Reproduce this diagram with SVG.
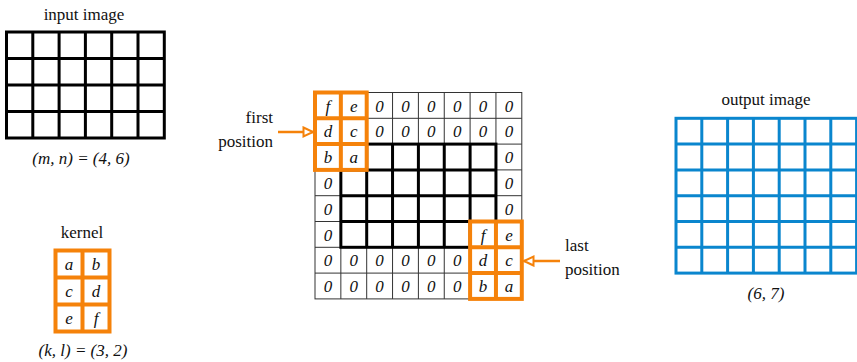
<svg xmlns="http://www.w3.org/2000/svg" width="857" height="362" viewBox="0 0 857 362">
<style>
text{font-family:"Liberation Serif",Tinos,"Times New Roman",Times,serif;font-size:17px;fill:#111}
.it{font-style:italic}
.c{text-anchor:middle}
.thin{stroke:#333;stroke-width:1;fill:none}
.thick{stroke:#000;stroke-width:3;fill:none}
.org{stroke:#F5820A;stroke-width:4;fill:#fff}
.orgl{stroke:#F5820A;stroke-width:4;fill:none}
.blue{stroke:#0A86CE;stroke-width:3;fill:none}
.arr{stroke:#F5820A;stroke-width:2.5;fill:none}
</style>
<defs>
<marker id="ah" markerUnits="userSpaceOnUse" markerWidth="14" markerHeight="14" refX="11" refY="6" orient="auto">
<path d="M1.5,1.5 L11,6 L1.5,10.5 Z" fill="#fff" stroke="#F5820A" stroke-width="2"/>
</marker>
</defs>
<rect width="857" height="362" fill="#fff"/>

<g id="input-image">
<text class="c" x="84" y="20">input image</text>
<rect class="thick" x="6.5" y="32" width="157.8" height="106"/>
<path class="thick" d="M32.8,32V138M59.1,32V138M85.4,32V138M111.7,32V138M138,32V138M6.5,58.5H164.3M6.5,85H164.3M6.5,111.5H164.3"/>
<text class="c it" x="81" y="164">(m, n) = (4, 6)</text>
</g>

<g id="kernel">
<text class="c" x="82" y="238">kernel</text>
<rect class="org" x="55.5" y="250.5" width="54" height="81"/>
<path class="orgl" d="M82.5,250.5V331.5M55.5,277.5H109.5M55.5,304.5H109.5"/>
<g class="it">
<text class="c" x="69" y="270">a</text><text class="c" x="96" y="270">b</text>
<text class="c" x="69" y="297">c</text><text class="c" x="96" y="297">d</text>
<text class="c" x="69" y="324">e</text><text class="c" x="96" y="324">f</text>
</g>
<text class="c it" x="83" y="356">(k, l) = (3, 2)</text>
</g>

<g id="padded-grid">
<rect class="thin" x="315" y="92.5" width="206.8" height="206.4"/>
<path class="thin" d="M340.85,92.5V298.9M366.7,92.5V298.9M392.55,92.5V298.9M418.4,92.5V298.9M444.25,92.5V298.9M470.1,92.5V298.9M495.95,92.5V298.9M315,118.3H521.8M315,144.1H521.8M315,169.9H521.8M315,195.7H521.8M315,221.5H521.8M315,247.3H521.8M315,273.1H521.8"/>
<rect class="thick" x="340.85" y="144.1" width="155.1" height="103.2"/>
<path class="thick" d="M366.7,144.1V247.3M392.55,144.1V247.3M418.4,144.1V247.3M444.25,144.1V247.3M470.1,144.1V247.3M340.85,169.9H495.95M340.85,195.7H495.95M340.85,221.5H495.95"/>
<g class="it">
<text class="c" x="379.6" y="111.5">0</text><text class="c" x="405.5" y="111.5">0</text><text class="c" x="431.3" y="111.5">0</text><text class="c" x="457.2" y="111.5">0</text><text class="c" x="483" y="111.5">0</text><text class="c" x="508.9" y="111.5">0</text>
<text class="c" x="379.6" y="137.3">0</text><text class="c" x="405.5" y="137.3">0</text><text class="c" x="431.3" y="137.3">0</text><text class="c" x="457.2" y="137.3">0</text><text class="c" x="483" y="137.3">0</text><text class="c" x="508.9" y="137.3">0</text>
<text class="c" x="508.9" y="163.1">0</text><text class="c" x="508.9" y="188.9">0</text><text class="c" x="508.9" y="214.7">0</text>
<text class="c" x="327.9" y="188.9">0</text><text class="c" x="327.9" y="214.7">0</text><text class="c" x="327.9" y="240.5">0</text>
<text class="c" x="327.9" y="266.3">0</text><text class="c" x="353.8" y="266.3">0</text><text class="c" x="379.6" y="266.3">0</text><text class="c" x="405.5" y="266.3">0</text><text class="c" x="431.3" y="266.3">0</text><text class="c" x="457.2" y="266.3">0</text>
<text class="c" x="327.9" y="292.1">0</text><text class="c" x="353.8" y="292.1">0</text><text class="c" x="379.6" y="292.1">0</text><text class="c" x="405.5" y="292.1">0</text><text class="c" x="431.3" y="292.1">0</text><text class="c" x="457.2" y="292.1">0</text>
</g>
</g>

<g id="first-position">
<rect class="org" x="315" y="92.5" width="51.7" height="77.4"/>
<path class="orgl" d="M340.85,92.5V169.9M315,118.3H366.7M315,144.1H366.7"/>
<g class="it">
<text class="c" x="327.9" y="111.5">f</text><text class="c" x="353.8" y="111.5">e</text>
<text class="c" x="327.9" y="137.3">d</text><text class="c" x="353.8" y="137.3">c</text>
<text class="c" x="327.9" y="163.1">b</text><text class="c" x="353.8" y="163.1">a</text>
</g>
<text x="273" y="122.5" text-anchor="end">first</text>
<text x="273" y="147" text-anchor="end">position</text>
</g>

<g id="last-position">
<rect class="org" x="470.1" y="221.5" width="51.7" height="77.4"/>
<path class="orgl" d="M495.95,221.5V298.9M470.1,247.3H521.8M470.1,273.1H521.8"/>
<g class="it">
<text class="c" x="483" y="240.5">f</text><text class="c" x="508.9" y="240.5">e</text>
<text class="c" x="483" y="266.3">d</text><text class="c" x="508.9" y="266.3">c</text>
<text class="c" x="483" y="292.1">b</text><text class="c" x="508.9" y="292.1">a</text>
</g>
<text x="565" y="251">last</text>
<text x="565" y="275">position</text>
</g>

<g id="output-image">
<text class="c" x="766" y="104.5">output image</text>
<rect class="blue" x="676" y="118.3" width="180.6" height="154.8"/>
<path class="blue" d="M701.8,118.3V273.1M727.6,118.3V273.1M753.4,118.3V273.1M779.2,118.3V273.1M805,118.3V273.1M830.8,118.3V273.1M676,144.1H856.6M676,169.9H856.6M676,195.7H856.6M676,221.5H856.6M676,247.3H856.6"/>
<text class="c it" x="766" y="299">(6, 7)</text>
</g>

<g id="connectors">
<line class="arr" x1="278" y1="132" x2="313" y2="132" marker-end="url(#ah)"/>
<line class="arr" x1="560" y1="261" x2="524" y2="261" marker-end="url(#ah)"/>
</g>
</svg>
